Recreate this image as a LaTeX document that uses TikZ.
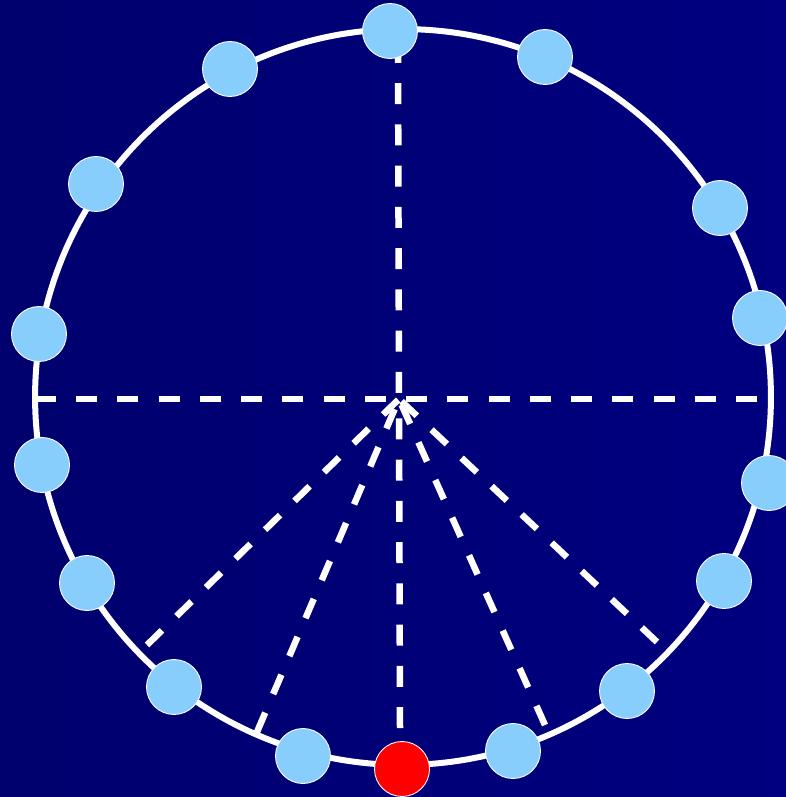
\documentclass[tikz,border=0pt]{standalone}
\usepackage{xcolor}
\usepackage{tikz}
\usetikzlibrary{shapes,positioning,calc}

\definecolor{bgleft}{RGB}{0,0,110}
\definecolor{bgright}{RGB}{0,0,128}
\definecolor{ballblue}{RGB}{136,206,252}

\begin{document}
\begin{tikzpicture}[
    x=0.02cm, y=-0.02cm,
    dot/.style={circle, draw=white, line width=0.5pt, fill=ballblue, minimum size=1.1cm, inner sep=0pt},
    hotdot/.style={dot, fill=red},
    rim/.style={draw=white, line width=0.12cm},
    spoke/.style={draw=white, line width=0.13cm, dash pattern=on 0.42cm off 0.405cm}
]
% Background
\useasboundingbox (0,0) rectangle (786,797);
\shade[left color=bgleft, right color=bgright] (0,0) rectangle (786,797);

% Circle
\coordinate (mid) at (403,397);
\draw[rim] (mid) circle [radius=7.36cm];

% Spoke ends
\coordinate (c) at (399,399);
\coordinate (top) at (398,42);
\coordinate (west) at (35,399);
\coordinate (east) at (771,399);
\coordinate (sw) at (147,645);
\coordinate (ssw) at (257,732);
\coordinate (south) at (400,728);
\coordinate (sse) at (545,725);
\coordinate (se) at (657,642);

% Spokes
\draw[spoke] (top) -- (c);
\draw[spoke] (west) -- (east);
\draw[spoke] (sw) -- (c);
\draw[spoke] (ssw) -- (c);
\draw[spoke] (south) -- (c);
\draw[spoke] (sse) -- (c);
\draw[spoke] (se) -- (c);

% Points on the circle
\node[dot] (p1) at (390,31) {};
\node[dot] (p2) at (545,57) {};
\node[dot] (p3) at (720,208) {};
\node[dot] (p4) at (760,318) {};
\node[dot] (p5) at (769,483) {};
\node[dot] (p6) at (724,581) {};
\node[dot] (p7) at (627,691) {};
\node[dot] (p8) at (513,751) {};
\node[hotdot] (hot) at (402,769) {};
\node[dot] (p9) at (303,756) {};
\node[dot] (p10) at (174,687) {};
\node[dot] (p11) at (87,583) {};
\node[dot] (p12) at (42,465) {};
\node[dot] (p13) at (39,334) {};
\node[dot] (p14) at (96,184) {};
\node[dot] (p15) at (230,69) {};
\end{tikzpicture}
\end{document}
